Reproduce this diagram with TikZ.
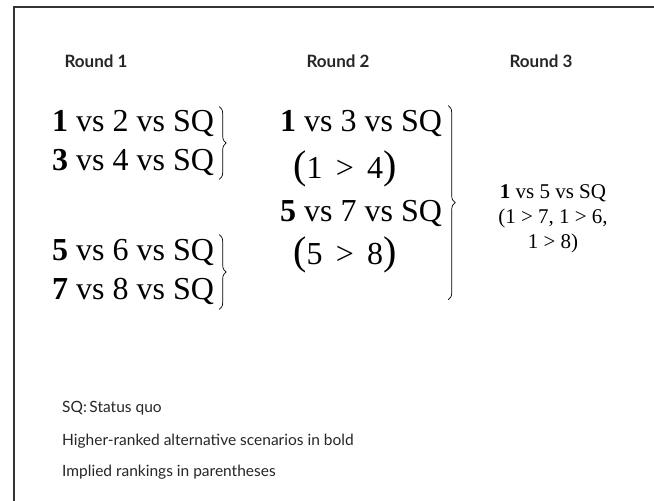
\documentclass[tikz,border=0pt]{standalone}
\usepackage{fontspec}
\setmainfont{Liberation Serif}
\newfontfamily\gill{Lato}
\usetikzlibrary{decorations.pathreplacing}
\newcommand{\bigpar}[1]{{\fontsize{40}{40}\selectfont#1}}

\begin{document}
\begin{tikzpicture}[
  x=1pt,y=-1pt,
  hdr/.style={font=\gill\bfseries\fontsize{17}{20}\selectfont,text=black!85},
  alt/.style={font=\fontsize{32}{36}\selectfont,anchor=base west,inner sep=0pt},
  fin/.style={font=\fontsize{21}{25}\selectfont,align=center,inner sep=0pt},
  note/.style={font=\gill\fontsize{15.5}{18}\selectfont,anchor=base west,inner sep=0pt,text=black!85},
  brc/.style={decorate,decoration={brace,amplitude=7pt},line width=0.7pt},
  frame/.style={draw=black!80,line width=2pt},
]
\useasboundingbox (0,0) rectangle (654,501);
\draw[frame] (14,501) |- (654,7);

\node[hdr] (round1) at (96,61) {Round 1};
\node[hdr] (round2) at (338,61) {Round 2};
\node[hdr] (round3) at (541,61) {Round 3};

\node[alt] (a12) at (52,131) {\textbf{1} vs 2 vs SQ};
\node[alt] (a34) at (52,170) {\textbf{3} vs 4 vs SQ};
\node[alt] (a56) at (52,260) {\textbf{5} vs 6 vs SQ};
\node[alt] (a78) at (52,299) {\textbf{7} vs 8 vs SQ};
\draw[brc] ([xshift=5pt,yshift=3pt]a12.north east) -- ([xshift=5pt,yshift=-4pt]a34.south east);
\draw[brc] ([xshift=5pt,yshift=4pt]a56.north east) -- ([xshift=5pt,yshift=-5pt]a78.south east);

\node[alt] (b13) at (280,131) {\textbf{1} vs 3 vs SQ};
\node[alt] (b14) at (293,178) {\bigpar{(}1~\,>~\,4\bigpar{)}};
\node[alt] (b57) at (280,221) {\textbf{5} vs 7 vs SQ};
\node[alt] (b58) at (293,264) {\bigpar{(}5~\,>~\,8\bigpar{)}};
\draw[brc] ([xshift=6pt,yshift=4pt]b13.north east) -- ([xshift=6pt,yshift=-27pt]b13.north east |- b58.south);

\node[fin] (c15) at (553,219) {\textbf{1} vs 5 vs SQ\\(1 > 7, 1 > 6,\\1 > 8)};

\node[note] (sq) at (62,412) {SQ:\,Status quo};
\node[note] (bold) at (62,445) {Higher-ranked alternative scenarios in bold};
\node[note] (paren) at (62,476) {Implied rankings in parentheses};
\end{tikzpicture}
\end{document}
